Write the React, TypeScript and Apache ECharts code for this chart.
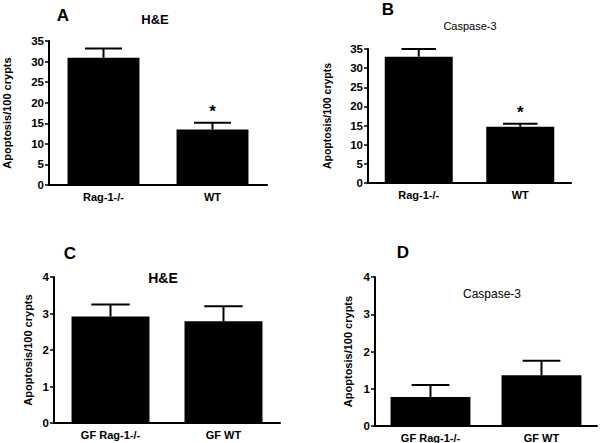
import React, { useEffect, useRef } from "react";
import * as echarts from "echarts";

const catsTop = ["Rag-1-/-", "WT"];
const catsBottom = ["GF Rag-1-/-", "GF WT"];
const valuesA = [30.9, 13.5];
const errorsA = [33.2, 15.1];
const valuesB = [33.0, 14.7];
const errorsB = [35.0, 15.5];
const valuesC = [2.92, 2.79];
const errorsC = [3.25, 3.2];
const valuesD = [0.78, 1.36];
const errorsD = [1.1, 1.75];
const starsTop = [false, true];
const starsBottom = [false, false];
const panelTitles = ["H&E", "Caspase-3", "H&E", "Caspase-3"];
const panelLetters = ["A", "B", "C", "D"];
const yName = "Apoptosis/100 crypts";

const FONT = "'Liberation Sans', Arial, sans-serif";

export default function App() {
  const ref = useRef<HTMLDivElement>(null);
  useEffect(() => {
    if (!ref.current) return;
    const chart = echarts.init(ref.current, null, { renderer: "svg" });

    const grids = [
      { left: 47, top: 41, width: 220, height: 144 },
      { left: 368, top: 49, width: 203, height: 134 },
      { left: 54, top: 277, width: 226, height: 146 },
      { left: 375, top: 277, width: 222, height: 149 },
    ];
    const cats = [catsTop, catsTop, catsBottom, catsBottom];
    const vals = [valuesA, valuesB, valuesC, valuesD];
    const errs = [errorsA, errorsB, errorsC, errorsD];
    const stars = [starsTop, starsTop, starsBottom, starsBottom];
    const barWidths = ["66%", "67%", "69%", "72%"];
    const yMax = [35, 35, 4, 4];
    const yInt = [5, 5, 1, 1];
    const nameGaps = [37, 36, 21, 22];
    const nameSizes = [11, 10.5, 11, 11];

    const axisLine = { show: true, lineStyle: { color: "#000", width: 2 } };

    const xAxis = grids.map((_, i) => ({
      type: "category",
      gridIndex: i,
      data: cats[i],
      axisLine,
      axisTick: { show: false },
      axisLabel: { interval: 0, color: "#000", fontFamily: FONT, fontWeight: "bold", fontSize: 11, margin: 6 },
    }));
    const yAxis = grids.map((_, i) => ({
      type: "value",
      gridIndex: i,
      min: 0,
      max: yMax[i],
      interval: yInt[i],
      name: yName,
      nameLocation: "middle",
      nameRotate: 90,
      nameGap: nameGaps[i],
      nameTextStyle: { color: "#000", fontFamily: FONT, fontWeight: "bold", fontSize: nameSizes[i] },
      axisLine,
      axisTick: { show: true, length: 4, lineStyle: { color: "#000", width: 1.5 } },
      splitLine: { show: false },
      axisLabel: { color: "#000", fontFamily: FONT, fontWeight: "bold", fontSize: 11.5, margin: 5 },
    }));

    const series: any[] = [];
    grids.forEach((_, i) => {
      series.push({
        type: "bar",
        xAxisIndex: i,
        yAxisIndex: i,
        data: vals[i],
        barWidth: barWidths[i],
        itemStyle: { color: "#000" },
      });
      series.push({
        type: "custom",
        xAxisIndex: i,
        yAxisIndex: i,
        data: vals[i].map((v, j) => [j, v, errs[i][j], stars[i][j] ? 1 : 0]),
        encode: { x: 0, y: [1, 2] },
        z: 5,
        renderItem: (params: any, api: any) => {
          const idx = api.value(0);
          const top = api.coord([idx, api.value(1)]);
          const err = api.coord([idx, api.value(2)]);
          const band = api.size([1, 0])[0];
          const half = band * 0.17;
          const children: any[] = [
            { type: "line", shape: { x1: top[0], y1: top[1], x2: err[0], y2: err[1] }, style: { stroke: "#000", lineWidth: 2 } },
            { type: "line", shape: { x1: err[0] - half, y1: err[1], x2: err[0] + half, y2: err[1] }, style: { stroke: "#000", lineWidth: 2 } },
          ];
          if (api.value(3) === 1) {
            children.push({
              type: "text",
              x: err[0],
              y: err[1] - 11,
              style: { text: "*", fill: "#000", font: `bold 17px ${FONT}`, textAlign: "center", textVerticalAlign: "middle" },
            });
          }
          return { type: "group", children };
        },
      });
    });

    const letterPos = [[63, 15], [388, 9], [70, 253], [403, 252]];
    const titlePos = [[155, 19], [470, 26], [163, 278], [492, 294]];
    const titleFonts = [`bold 13px ${FONT}`, `11px ${FONT}`, `bold 14px ${FONT}`, `12px ${FONT}`];
    const graphic: any[] = [];
    panelLetters.forEach((l, i) => {
      graphic.push({
        type: "text",
        x: letterPos[i][0],
        y: letterPos[i][1],
        style: { text: l, fill: "#000", font: `bold 17px ${FONT}`, textAlign: "center", textVerticalAlign: "middle" },
      });
      graphic.push({
        type: "text",
        x: titlePos[i][0],
        y: titlePos[i][1],
        style: { text: panelTitles[i], fill: "#000", font: titleFonts[i], textAlign: "center", textVerticalAlign: "middle" },
      });
    });

    chart.setOption({
      animation: false,
      backgroundColor: "#fff",
      grid: grids,
      xAxis,
      yAxis,
      series,
      graphic,
    });
    return () => chart.dispose();
  }, []);
  return <div ref={ref} style={{ width: 600, height: 443, position: "absolute", left: 0, top: 0 }} />;
}
